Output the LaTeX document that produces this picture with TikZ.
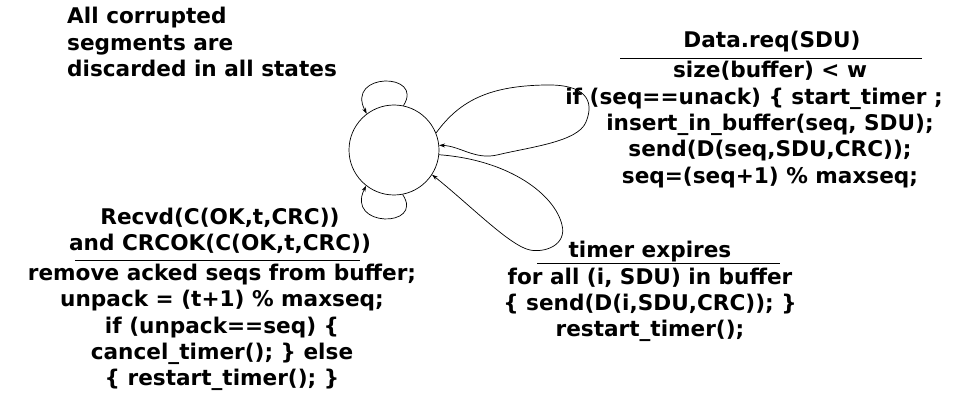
\documentclass[tikz,border=0pt]{standalone}
\usepackage{fontspec}
\setmainfont{DejaVu Sans}
\usetikzlibrary{arrows.meta}

\begin{document}
\begin{tikzpicture}[x=1pt, y=-1pt,
state/.style={draw, circle, minimum size=90pt, inner sep=0pt, line width=.7pt},
lbl/.style={font=\fontsize{21.6}{26.3}\selectfont\bfseries, align=center, inner sep=0pt},
note/.style={lbl, align=left, anchor=west},
trans/.style={-{Stealth[length=6pt, width=4pt]}, line width=.7pt},
bar/.style={line width=.7pt}
]
\useasboundingbox (0,0) rectangle (954,401);

%%% state
\node[state] (s) at (394,150) {};

\node[note] (corrupt) at (67,42) {All corrupted\\segments are\\discarded in all states};

%%% self loops
\draw[trans] (s.78) .. controls (425,72) and (345,72) .. (s.127);
\draw[trans] (s.-79) .. controls (425,228) and (345,228) .. (s.-128);

\draw[trans] (s.22) .. controls (460,100) and (490,86) .. (545,85)
	.. controls (585,84) and (595,100) .. (586,122)
	.. controls (578,142) and (530,147) .. (497,155)
	.. controls (475,160) and (460,146) .. (s.6);

\draw[trans] (s.-6) .. controls (510,160) and (555,195) .. (562,225)
	.. controls (567,245) and (545,253) .. (530,250)
	.. controls (510,246) and (470,205) .. (s.-33);

%%% Data.req
\node[lbl] (dreq) at (772,42) {Data.req(SDU)};
\draw[bar] (620,58) -- (922,58);
\node[lbl] (dact) at (770,124.5) {size(buffer) < w\\
	\hbox{if (seq==unack) \{ start\_timer ;\hspace{32pt}}\\
	insert\_in\_buffer(seq, SDU);\\
	send(D(seq,SDU,CRC));\\
	seq=(seq+1) \% maxseq;};

%%% Recvd
\node[lbl] (recv) at (220,231) {Recvd(C(OK,t,CRC))\\and CRCOK(C(OK,t,CRC))};
\draw[bar] (75,260) -- (360,260);
\node[lbl] (ract) at (222,327.5) {remove acked seqs from buffer;\\
	unpack = (t+1) \% maxseq;\\
	if (unpack==seq) \{\\
	cancel\_timer(); \} else\\
	\{ restart\_timer(); \}};

%%% timer
\node[lbl] (texp) at (650,252) {timer expires};
\draw[bar] (537,263) -- (780,263);
\node[lbl] (tact) at (650,305) {for all (i, SDU) in buffer\\
	\{ send(D(i,SDU,CRC)); \}\\
	restart\_timer();};

\end{tikzpicture}
\end{document}
